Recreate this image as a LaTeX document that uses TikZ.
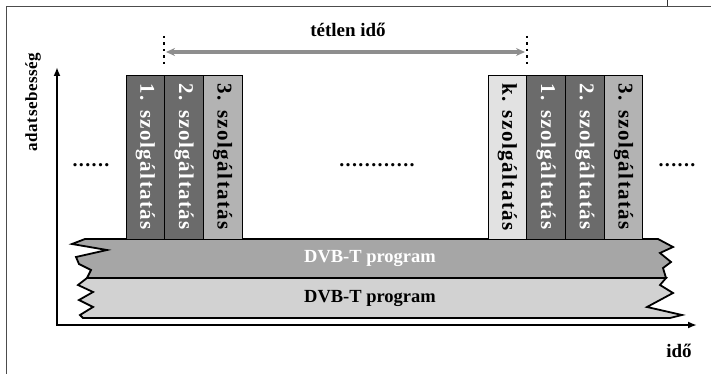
\documentclass[tikz,border=0pt]{standalone}
\usepackage{fontspec}
\setmainfont{Liberation Serif}
\newfontfamily\spaced[LetterSpace=7]{Liberation Serif}
\newfontfamily\lightspaced[LetterSpace=3]{Liberation Serif}
\usetikzlibrary{arrows.meta}
\definecolor{cdark}{HTML}{6B6B6B}
\definecolor{cmid}{HTML}{B3B3B3}
\definecolor{clight}{HTML}{E2E2E2}
\definecolor{bandA}{HTML}{A6A6A6}
\definecolor{bandB}{HTML}{D2D2D2}
\definecolor{agray}{HTML}{8E8E8E}
\begin{document}
\begin{tikzpicture}[x=1pt,y=-1pt,
  col/.style={draw=black, line width=0.9pt, minimum width=164pt, minimum height=38.7pt,
    inner sep=0pt, rotate=-90, font=\spaced\bfseries\fontsize{21}{21}\selectfont},
  darkcol/.style={col, fill=cdark, text=white},
  midcol/.style={col, fill=cmid, text=black},
  lightcol/.style={col, fill=clight, text=black},
  band/.style={draw=black, line width=1.8pt, line join=miter},
  bandtext/.style={font=\bfseries\fontsize{18.5}{18.5}\selectfont, inner sep=0pt},
  dotrow/.style={font=\spaced\bfseries\fontsize{20}{20}\selectfont, inner sep=0pt},
  axis/.style={line width=2.4pt, -{Latex[length=9pt,width=7pt]}},
  lbl/.style={font=\bfseries\fontsize{19}{19}\selectfont, inner sep=0pt},
  ylbl/.style={font=\lightspaced\bfseries\fontsize{17}{17}\selectfont, inner sep=0pt}
]
\useasboundingbox (0,0) rectangle (711,374);
% frame lines
\draw[line width=0.8pt, black!70] (6,374) -- (6,6) -- (711,6);
\draw[line width=0.8pt, black!80] (667,0) -- (667,6);

% bands
\path[band, fill=bandB] (87,278) -- (78,285) -- (93,292) -- (79,300) -- (93,307) -- (80,315) -- (83,318)
  -- (670,318) -- (682,315) -- (647,307) -- (673,293) -- (660,285) -- (666,278) -- cycle;
\path[band, fill=bandA] (85,239) -- (658,239) -- (673,247) -- (660,253) -- (671,262) -- (663,268) -- (666,278)
  -- (87,278) -- (91,270) -- (79,264) -- (76,257) -- (107,250) -- (72,244) -- cycle;
\node[bandtext, text=white] (p1) at (370,258) {DVB-T program};
\node[bandtext, text=black] (p2) at (370,298) {DVB-T program};

% columns, left group
\node[darkcol] (a1) at (145.3,157) {1. szolgáltatás};
\node[darkcol] (a2) at (184,157) {2. szolgáltatás};
\node[midcol]  (a3) at (222.7,157) {3. szolgáltatás};
% columns, right group
\node[lightcol] (b0) at (507.4,157) {k. szolgáltatás};
\node[darkcol]  (b1) at (546.1,157) {1. szolgáltatás};
\node[darkcol]  (b2) at (584.8,157) {2. szolgáltatás};
\node[midcol]   (b3) at (623.5,157) {3. szolgáltatás};

% dots
\node[dotrow] (d1) at (91,165) {......};
\node[dotrow] (d2) at (377,165) {............};
\node[dotrow] (d3) at (677,165) {......};

% idle time marker
\coordinate (t1a) at (164,36);
\coordinate (t1b) at (164,66);
\coordinate (t2a) at (527,36);
\coordinate (t2b) at (527,66);
\draw[line width=2.3pt, dash pattern=on 2.3pt off 4.2pt] (t1a) -- (t1b);
\draw[line width=2.3pt, dash pattern=on 2.3pt off 4.2pt] (t2a) -- (t2b);
\coordinate (m1) at (166,52);
\coordinate (m2) at (525,52);
\draw[agray, line width=3.2pt, {Stealth[length=9pt,width=8pt]}-{Stealth[length=9pt,width=8pt]}] (m1) -- (m2);
\node[lbl] (idle) at (348,30) {tétlen idő};

% axes
\coordinate (o) at (57,325);
\coordinate (ytip) at (57,67);
\coordinate (xtip) at (697,325);
\draw[axis] (o) -- (ytip);
\draw[axis] ([xshift=-1.2pt]o) -- (xtip);
\node[lbl] (xl) at (679,351) {idő};
\node[ylbl, rotate=90] (yl) at (33,102) {adatsebesség};
\end{tikzpicture}
\end{document}
